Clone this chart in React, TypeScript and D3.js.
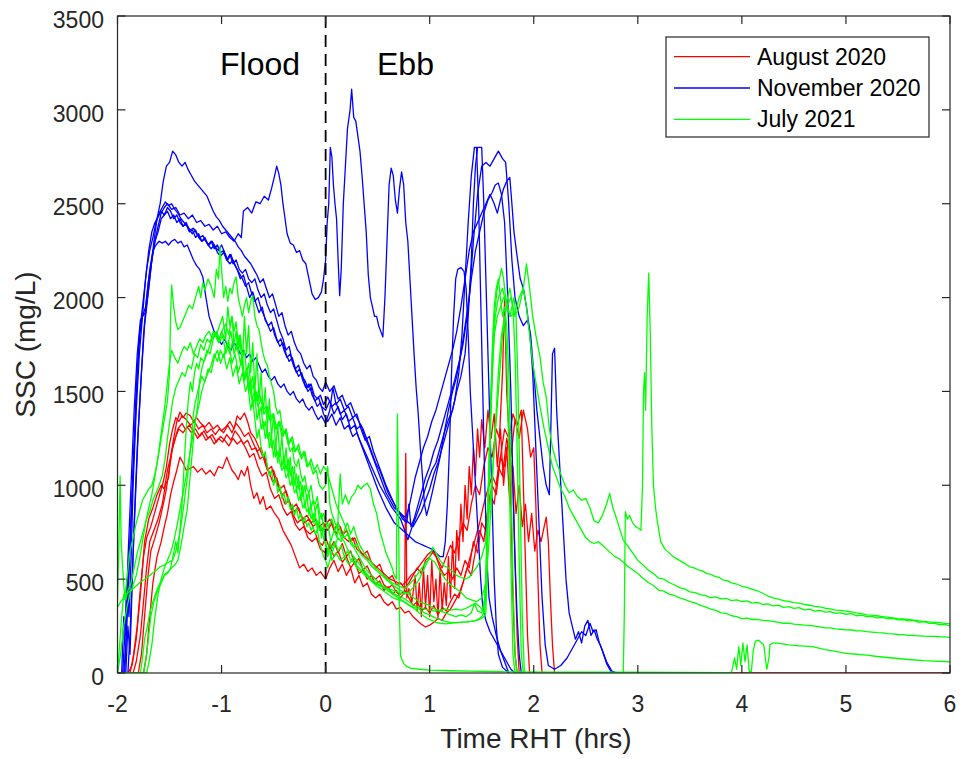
import React from "react";
import * as d3 from "d3";

type Pt = [number, number];

// ---------- tick values ----------
const xTicks = [-2, -1, 0, 1, 2, 3, 4, 5, 6];
const yTicks = [0, 500, 1000, 1500, 2000, 2500, 3000, 3500];

// ---------- August 2020 (red) ----------
const augustA: Pt[] = [[-2,0],[-1.9,0],[-1.86,40],[-1.82,180],[-1.78,420],[-1.74,700],[-1.70,820],[-1.66,880],[-1.62,950],[-1.58,1000],[-1.55,980],[-1.52,1080],[-1.49,1150],[-1.46,1250],[-1.43,1340],[-1.40,1390],[-1.37,1360],[-1.34,1385],[-1.30,1370],[-1.27,1340],[-1.24,1360],[-1.20,1330],[-1.16,1310],[-1.12,1335],[-1.08,1300],[-1.04,1320],[-1.0,1290],[-0.96,1310],[-0.92,1340],[-0.88,1300],[-0.85,1370],[-0.82,1350],[-0.78,1385],[-0.75,1340],[-0.72,1280],[-0.68,1250],[-0.64,1200],[-0.60,1150],[-0.56,1080],[-0.52,1100],[-0.48,1020],[-0.44,980],[-0.40,1000],[-0.36,920],[-0.32,880],[-0.28,900],[-0.24,840],[-0.20,800],[-0.16,820],[-0.12,780],[-0.08,800],[-0.04,760],[0,790],[0.04,820],[0.08,760],[0.12,800],[0.16,730],[0.2,760],[0.24,700],[0.28,720],[0.32,660],[0.36,630],[0.40,650],[0.44,590],[0.48,560],[0.52,580],[0.56,520],[0.60,500],[0.64,520],[0.68,470],[0.72,480],[0.76,450],[0.8,480],[0.84,520],[0.88,560],[0.92,530],[0.96,600],[1.0,620],[1.04,650],[1.08,600],[1.12,560],[1.16,620],[1.2,680],[1.24,640],[1.28,720],[1.32,800],[1.36,760],[1.40,900],[1.44,1000],[1.48,950],[1.52,1100],[1.56,1200],[1.60,1150],[1.64,1300],[1.67,1250],[1.70,1600],[1.72,2000],[1.74,1500],[1.76,1300],[1.78,900],[1.80,400],[1.82,100],[1.84,0]];
const augustB: Pt[] = [[-2,0],[-1.85,0],[-1.82,60],[-1.78,200],[-1.75,380],[-1.72,560],[-1.69,700],[-1.65,760],[-1.61,820],[-1.57,900],[-1.54,1000],[-1.51,1040],[-1.48,1180],[-1.45,1240],[-1.42,1300],[-1.38,1330],[-1.35,1300],[-1.31,1320],[-1.27,1290],[-1.23,1250],[-1.19,1280],[-1.15,1240],[-1.11,1260],[-1.07,1220],[-1.03,1250],[-0.99,1230],[-0.95,1270],[-0.91,1240],[-0.87,1290],[-0.83,1260],[-0.79,1220],[-0.75,1240],[-0.71,1190],[-0.67,1200],[-0.63,1140],[-0.59,1160],[-0.55,1080],[-0.51,1020],[-0.47,1040],[-0.43,960],[-0.39,900],[-0.35,920],[-0.31,840],[-0.27,800],[-0.23,820],[-0.19,760],[-0.15,740],[-0.11,760],[-0.07,700],[-0.03,680],[0,720],[0.04,660],[0.08,700],[0.12,640],[0.16,690],[0.2,620],[0.24,650],[0.28,580],[0.32,610],[0.36,550],[0.40,570],[0.44,520],[0.48,500],[0.52,520],[0.56,470],[0.6,450],[0.64,470],[0.68,430],[0.72,420],[0.76,440],[0.8,400],[0.84,360],[0.88,380],[0.92,330],[0.96,350],[1.0,320],[1.04,360],[1.08,310],[1.12,350],[1.16,330],[1.2,380],[1.24,420],[1.28,400],[1.32,480],[1.36,560],[1.40,520],[1.44,650],[1.48,760],[1.52,700],[1.56,880],[1.60,1000],[1.64,950],[1.68,1150],[1.72,1300],[1.76,1250],[1.80,1380],[1.84,1320],[1.88,1400],[1.90,1000],[1.92,600],[1.94,200],[1.96,0]];
const augustC: Pt[] = [[-2,0],[-1.8,0],[-1.77,100],[-1.74,300],[-1.71,500],[-1.68,650],[-1.64,720],[-1.60,800],[-1.56,900],[-1.53,980],[-1.50,1100],[-1.47,1200],[-1.44,1260],[-1.41,1300],[-1.37,1280],[-1.33,1310],[-1.29,1280],[-1.25,1300],[-1.21,1260],[-1.17,1290],[-1.13,1250],[-1.09,1270],[-1.05,1230],[-1.01,1260],[-0.97,1240],[-0.93,1210],[-0.89,1250],[-0.85,1220],[-0.81,1240],[-0.77,1200],[-0.73,1150],[-0.69,1170],[-0.65,1100],[-0.61,1050],[-0.57,1070],[-0.53,980],[-0.49,930],[-0.45,950],[-0.41,880],[-0.37,840],[-0.33,860],[-0.29,790],[-0.25,760],[-0.21,780],[-0.17,720],[-0.13,700],[-0.09,720],[-0.05,660],[0,640],[0.04,680],[0.08,620],[0.12,650],[0.16,590],[0.2,620],[0.24,560],[0.28,590],[0.32,530],[0.36,550],[0.40,500],[0.44,520],[0.48,470],[0.52,490],[0.56,440],[0.60,460],[0.64,420],[0.68,440],[0.72,400],[0.76,430],[0.77,1170],[0.78,400],[0.80,450],[0.83,380],[0.86,520],[0.88,330],[0.90,480],[0.92,300],[0.94,560],[0.96,350],[0.98,520],[1.0,300],[1.02,600],[1.04,380],[1.06,500],[1.08,290],[1.10,560],[1.12,330],[1.14,480],[1.16,360],[1.18,620],[1.20,400],[1.22,700],[1.24,450],[1.26,760],[1.28,600],[1.30,900],[1.32,700],[1.34,1000],[1.36,820],[1.38,1100],[1.40,950],[1.42,1200],[1.44,1050],[1.46,1300],[1.48,1150],[1.50,1350],[1.53,1200],[1.56,1400],[1.59,1250],[1.62,1380],[1.65,1100],[1.68,1300],[1.71,1000],[1.74,1200],[1.77,900],[1.80,1100],[1.83,850],[1.86,1000],[1.89,780],[1.92,900],[1.95,700],[1.98,850],[2.01,650],[2.04,760],[2.07,700],[2.10,780],[2.12,830],[2.14,700],[2.16,400],[2.18,150],[2.20,0],[6,0]];
const augustD: Pt[] = [[-2,0],[-1.75,0],[-1.72,100],[-1.69,300],[-1.66,480],[-1.62,620],[-1.58,700],[-1.55,780],[-1.52,850],[-1.49,950],[-1.46,1020],[-1.43,1080],[-1.40,1150],[-1.37,1120],[-1.34,1080],[-1.30,1090],[-1.27,1100],[-1.23,1070],[-1.19,1090],[-1.15,1060],[-1.11,1080],[-1.07,1050],[-1.03,1100],[-0.99,1090],[-0.95,1150],[-0.93,1120],[-0.90,1080],[-0.87,1060],[-0.84,1030],[-0.81,1080],[-0.78,1050],[-0.75,1100],[-0.72,1000],[-0.69,930],[-0.66,960],[-0.63,900],[-0.60,940],[-0.57,870],[-0.53,890],[-0.49,850],[-0.45,820],[-0.41,760],[-0.37,720],[-0.33,680],[-0.29,620],[-0.25,560],[-0.21,580],[-0.17,540],[-0.13,560],[-0.09,520],[-0.05,540],[0,500],[0.04,560],[0.08,600],[0.12,540],[0.16,580],[0.2,520],[0.24,560],[0.28,480],[0.32,520],[0.36,460],[0.4,480],[0.44,420],[0.48,400],[0.52,420],[0.56,380],[0.6,360],[0.64,380],[0.68,340],[0.72,350],[0.76,320],[0.8,330],[0.84,300],[0.88,280],[0.92,260],[0.96,245],[1.0,255],[1.04,270],[1.08,290],[1.12,280],[1.16,320],[1.2,340],[1.24,380],[1.28,420],[1.32,480],[1.36,560],[1.40,640],[1.44,720],[1.48,800],[1.52,900],[1.56,980],[1.60,1050],[1.64,1000],[1.68,1150],[1.72,1100],[1.76,1250],[1.80,1000],[1.82,600],[1.84,200],[1.86,0]];
const augustE: Pt[] = [[-2,0],[-1.88,0],[-1.85,80],[-1.81,250],[-1.78,450],[-1.75,620],[-1.72,720],[-1.68,780],[-1.64,860],[-1.60,940],[-1.56,1020],[-1.53,1100],[-1.50,1220],[-1.47,1300],[-1.44,1360],[-1.41,1340],[-1.38,1370],[-1.34,1350],[-1.30,1320],[-1.26,1340],[-1.22,1300],[-1.18,1320],[-1.14,1280],[-1.10,1300],[-1.06,1270],[-1.02,1300],[-0.98,1280],[-0.94,1320],[-0.90,1280],[-0.86,1330],[-0.82,1300],[-0.78,1260],[-0.74,1280],[-0.70,1230],[-0.66,1180],[-0.62,1200],[-0.58,1120],[-0.54,1060],[-0.50,1080],[-0.46,1000],[-0.42,950],[-0.38,970],[-0.34,900],[-0.30,860],[-0.26,880],[-0.22,820],[-0.18,840],[-0.14,800],[-0.10,820],[-0.06,780],[-0.02,800],[0.02,760],[0.06,800],[0.1,740],[0.14,780],[0.18,720],[0.22,700],[0.26,720],[0.30,660],[0.34,640],[0.38,620],[0.42,600],[0.46,580],[0.50,560],[0.54,540],[0.58,520],[0.62,500],[0.66,490],[0.70,480],[0.74,470],[0.78,490],[0.82,520],[0.86,540],[0.90,570],[0.94,600],[0.98,630],[1.02,650],[1.06,620],[1.10,560],[1.14,520],[1.18,540],[1.22,500],[1.26,560],[1.30,520],[1.34,600],[1.38,560],[1.42,700],[1.46,640],[1.50,800],[1.54,760],[1.58,950],[1.62,900],[1.66,1100],[1.70,1050],[1.74,1250],[1.78,1150],[1.82,1350],[1.86,1250],[1.90,1400],[1.94,1300],[1.97,1150],[2.0,1200],[2.02,900],[2.04,500],[2.06,150],[2.08,0]];

// ---------- November 2020 (blue) ----------
const novemberA: Pt[] = [[-2,0],[-1.90,0],[-1.88,200],[-1.86,500],[-1.83,900],[-1.80,1300],[-1.77,1600],[-1.74,1850],[-1.71,2000],[-1.68,2150],[-1.65,2300],[-1.62,2420],[-1.59,2500],[-1.56,2620],[-1.53,2700],[-1.50,2720],[-1.47,2780],[-1.44,2760],[-1.41,2720],[-1.38,2700],[-1.35,2720],[-1.32,2680],[-1.29,2650],[-1.26,2620],[-1.23,2600],[-1.20,2580],[-1.17,2560],[-1.14,2540],[-1.11,2500],[-1.08,2460],[-1.05,2430],[-1.02,2410],[-0.99,2380],[-0.96,2360],[-0.93,2340],[-0.90,2320],[-0.87,2300],[-0.84,2270],[-0.81,2250],[-0.78,2220],[-0.75,2200],[-0.72,2180],[-0.69,2150],[-0.66,2120],[-0.63,2080],[-0.60,2100],[-0.57,2050],[-0.54,2000],[-0.51,2020],[-0.48,1960],[-0.45,1900],[-0.42,1920],[-0.39,1850],[-0.36,1800],[-0.33,1820],[-0.30,1760],[-0.27,1720],[-0.24,1700],[-0.21,1650],[-0.18,1620],[-0.15,1640],[-0.12,1580],[-0.09,1560],[-0.06,1520],[-0.03,1500],[0,1550],[0.04,1500],[0.08,1530],[0.12,1460],[0.16,1480],[0.20,1420],[0.24,1440],[0.28,1380],[0.32,1340],[0.36,1300],[0.40,1240],[0.44,1180],[0.48,1120],[0.52,1080],[0.56,1020],[0.60,960],[0.64,920],[0.68,880],[0.72,850],[0.76,820],[0.80,800],[0.84,780],[0.88,820],[0.92,860],[0.96,920],[1.0,980],[1.04,1060],[1.08,1120],[1.12,1200],[1.16,1280],[1.20,1360],[1.24,1450],[1.28,1600],[1.31,1800],[1.34,2100],[1.37,2400],[1.40,2650],[1.43,2800],[1.45,2800],[1.47,2500],[1.49,2000],[1.51,1500],[1.53,1000],[1.55,600],[1.57,400],[1.60,300],[1.64,200],[1.68,120],[1.72,60],[1.76,0]];
const novemberB: Pt[] = [[-2,0],[-1.93,0],[-1.91,300],[-1.88,700],[-1.85,1100],[-1.82,1500],[-1.79,1800],[-1.76,1900],[-1.73,1920],[-1.70,2050],[-1.67,2200],[-1.64,2300],[-1.61,2380],[-1.58,2450],[-1.55,2480],[-1.52,2500],[-1.48,2470],[-1.44,2480],[-1.40,2440],[-1.36,2450],[-1.32,2420],[-1.28,2440],[-1.24,2400],[-1.20,2410],[-1.16,2380],[-1.12,2390],[-1.08,2360],[-1.04,2380],[-1.00,2340],[-0.96,2350],[-0.92,2320],[-0.88,2300],[-0.84,2340],[-0.81,2320],[-0.79,2460],[-0.75,2480],[-0.71,2450],[-0.67,2510],[-0.63,2500],[-0.59,2540],[-0.55,2520],[-0.52,2580],[-0.49,2650],[-0.47,2700],[-0.45,2660],[-0.43,2600],[-0.41,2500],[-0.39,2420],[-0.37,2340],[-0.34,2290],[-0.31,2280],[-0.28,2240],[-0.25,2250],[-0.22,2200],[-0.19,2180],[-0.16,2100],[-0.13,2020],[-0.10,1990],[-0.07,2000],[-0.04,2030],[-0.02,2100],[0.0,2200],[0.015,2400],[0.03,2500],[0.045,2800],[0.06,2750],[0.075,2600],[0.09,2500],[0.105,2420],[0.12,2200],[0.135,2010],[0.15,2150],[0.17,2500],[0.19,2700],[0.21,2900],[0.235,3000],[0.25,3110],[0.27,2960],[0.29,2940],[0.31,2860],[0.33,2780],[0.35,2650],[0.37,2500],[0.39,2350],[0.41,2120],[0.43,2000],[0.45,1950],[0.47,1900],[0.49,1900],[0.51,1850],[0.53,1820],[0.55,1790],[0.57,2000],[0.59,2300],[0.61,2600],[0.63,2690],[0.65,2650],[0.67,2520],[0.69,2450],[0.71,2580],[0.73,2670],[0.75,2600],[0.77,2400],[0.79,2300],[0.81,2100],[0.83,1900],[0.85,1700],[0.87,1520],[0.89,1380],[0.91,1200],[0.93,1050],[0.95,900],[0.97,840],[0.99,880],[1.02,950],[1.06,1050],[1.10,1150],[1.14,1280],[1.18,1400],[1.22,1500],[1.26,1580],[1.30,1700],[1.34,1850],[1.38,2000],[1.42,2300],[1.46,2550],[1.50,2700],[1.54,2720],[1.58,2700],[1.62,2740],[1.66,2780],[1.70,2740],[1.73,2720],[1.76,2500],[1.79,2200],[1.82,2000],[1.86,1900],[1.90,1850],[1.94,1880],[1.97,1800],[2.0,1600],[2.03,1400],[2.06,1250],[2.09,1100],[2.12,1000],[2.15,950],[2.18,1700],[2.20,1730],[2.22,1400],[2.25,1100],[2.28,800],[2.31,500],[2.34,320],[2.37,250],[2.40,180],[2.43,220],[2.46,160],[2.49,250],[2.52,280],[2.55,200],[2.58,230],[2.61,180],[2.64,150],[2.67,100],[2.70,50],[2.74,10],[2.78,0]];
const novemberC: Pt[] = [[-2,0],[-1.94,0],[-1.92,150],[-1.90,400],[-1.87,800],[-1.84,1200],[-1.81,1600],[-1.78,1850],[-1.75,2000],[-1.72,2150],[-1.69,2250],[-1.66,2320],[-1.63,2400],[-1.60,2450],[-1.57,2480],[-1.54,2510],[-1.51,2490],[-1.48,2500],[-1.45,2470],[-1.42,2450],[-1.39,2420],[-1.36,2400],[-1.33,2380],[-1.30,2360],[-1.27,2370],[-1.24,2340],[-1.21,2320],[-1.18,2330],[-1.15,2300],[-1.12,2280],[-1.09,2300],[-1.06,2270],[-1.03,2250],[-1.00,2280],[-0.97,2240],[-0.94,2200],[-0.91,2230],[-0.88,2180],[-0.85,2150],[-0.82,2100],[-0.79,2120],[-0.76,2060],[-0.73,2000],[-0.70,2030],[-0.67,1970],[-0.64,1920],[-0.61,1950],[-0.58,1880],[-0.55,1850],[-0.52,1870],[-0.49,1800],[-0.46,1760],[-0.43,1780],[-0.40,1720],[-0.37,1680],[-0.34,1700],[-0.31,1640],[-0.28,1600],[-0.25,1620],[-0.22,1560],[-0.19,1520],[-0.16,1540],[-0.13,1480],[-0.10,1450],[-0.07,1470],[-0.04,1420],[0,1400],[0.04,1450],[0.08,1380],[0.12,1420],[0.16,1350],[0.20,1380],[0.24,1300],[0.28,1320],[0.32,1250],[0.36,1200],[0.40,1150],[0.44,1100],[0.48,1050],[0.52,1000],[0.56,960],[0.60,920],[0.64,880],[0.68,850],[0.72,820],[0.76,760],[0.79,710],[0.82,760],[0.86,820],[0.90,880],[0.94,950],[0.98,1020],[1.02,1080],[1.06,1120],[1.10,1200],[1.14,1280],[1.18,1350],[1.22,1400],[1.26,1500],[1.30,1580],[1.34,1700],[1.37,1900],[1.40,2200],[1.42,2500],[1.44,2700],[1.46,2800],[1.48,2800],[1.50,2800],[1.52,2500],[1.54,2100],[1.56,1700],[1.58,1300],[1.60,900],[1.62,500],[1.64,250],[1.66,100],[1.70,30],[1.76,0]];
const novemberD: Pt[] = [[-2,0],[-1.95,0],[-1.93,200],[-1.91,500],[-1.89,300],[-1.87,600],[-1.85,1000],[-1.82,1400],[-1.79,1700],[-1.76,1900],[-1.73,2100],[-1.70,2250],[-1.67,2350],[-1.64,2400],[-1.61,2430],[-1.58,2460],[-1.55,2440],[-1.52,2480],[-1.49,2460],[-1.46,2420],[-1.43,2440],[-1.40,2400],[-1.37,2380],[-1.34,2400],[-1.31,2360],[-1.28,2340],[-1.25,2360],[-1.22,2320],[-1.19,2300],[-1.16,2320],[-1.13,2280],[-1.10,2260],[-1.07,2280],[-1.04,2240],[-1.01,2220],[-0.98,2240],[-0.95,2200],[-0.92,2180],[-0.89,2200],[-0.86,2160],[-0.83,2130],[-0.80,2100],[-0.77,2060],[-0.74,2080],[-0.71,2020],[-0.68,1980],[-0.65,2000],[-0.62,1940],[-0.59,1900],[-0.56,1860],[-0.53,1820],[-0.50,1840],[-0.47,1780],[-0.44,1740],[-0.41,1760],[-0.38,1700],[-0.35,1660],[-0.32,1680],[-0.29,1620],[-0.26,1580],[-0.23,1600],[-0.20,1540],[-0.17,1500],[-0.14,1520],[-0.11,1460],[-0.08,1420],[-0.05,1440],[-0.02,1380],[0.02,1340],[0.06,1380],[0.10,1320],[0.14,1360],[0.18,1300],[0.22,1320],[0.26,1260],[0.30,1280],[0.34,1220],[0.38,1160],[0.42,1100],[0.46,1040],[0.50,980],[0.54,930],[0.58,880],[0.62,840],[0.66,800],[0.70,780],[0.74,760],[0.78,740],[0.82,720],[0.86,700],[0.90,690],[0.94,680],[0.98,670],[1.02,660],[1.06,640],[1.10,620],[1.13,620],[1.15,700],[1.17,900],[1.19,1200],[1.21,1600],[1.23,1900],[1.25,2100],[1.27,2150],[1.30,2160],[1.33,2140],[1.35,2050],[1.37,1800],[1.39,1500],[1.41,1300],[1.43,1100],[1.45,900],[1.47,700],[1.49,500],[1.51,350],[1.54,280],[1.58,220],[1.62,180],[1.66,140],[1.70,100],[1.74,60],[1.78,20],[1.82,0]];
const novemberE: Pt[] = [[-2,0],[-1.92,0],[-1.90,250],[-1.88,100],[-1.86,450],[-1.84,800],[-1.81,1200],[-1.78,1500],[-1.75,1800],[-1.72,2000],[-1.69,2150],[-1.66,2250],[-1.63,2280],[-1.60,2300],[-1.57,2290],[-1.54,2300],[-1.51,2280],[-1.48,2300],[-1.45,2310],[-1.42,2290],[-1.39,2300],[-1.36,2270],[-1.33,2280],[-1.30,2240],[-1.27,2200],[-1.24,2170],[-1.21,2150],[-1.18,2110],[-1.15,2000],[-1.12,1900],[-1.09,1850],[-1.06,1800],[-1.03,1780],[-1.00,1750],[-0.97,1780],[-0.94,1740],[-0.91,1720],[-0.88,1760],[-0.85,1740],[-0.82,1700],[-0.79,1720],[-0.76,1680],[-0.73,1700],[-0.70,1660],[-0.67,1680],[-0.64,1640],[-0.61,1600],[-0.58,1620],[-0.55,1580],[-0.52,1560],[-0.49,1580],[-0.46,1540],[-0.43,1520],[-0.40,1540],[-0.37,1500],[-0.34,1480],[-0.31,1500],[-0.28,1460],[-0.25,1440],[-0.22,1460],[-0.19,1420],[-0.16,1400],[-0.13,1420],[-0.10,1380],[-0.07,1350],[-0.04,1370],[0.0,1330],[0.04,1400],[0.07,1520],[0.10,1430],[0.14,1460],[0.18,1400],[0.22,1420],[0.26,1360],[0.30,1380],[0.34,1300],[0.38,1240],[0.42,1260],[0.46,1180],[0.50,1120],[0.54,1060],[0.58,1000],[0.62,950],[0.66,900],[0.70,860],[0.74,820],[0.78,800],[0.80,900],[0.82,780],[0.85,820],[0.88,880],[0.92,960],[0.96,1040],[1.0,1100],[1.04,1180],[1.08,1240],[1.12,1320],[1.16,1400],[1.20,1480],[1.24,1560],[1.28,1650],[1.32,1750],[1.36,1900],[1.40,2100],[1.44,2250],[1.48,2350],[1.52,2450],[1.56,2520],[1.60,2560],[1.63,2600],[1.66,2610],[1.69,2550],[1.72,2400],[1.75,2000],[1.78,1500],[1.80,1000],[1.82,600],[1.84,300],[1.86,100],[1.88,0]];
const novemberF: Pt[] = [[-2,0],[-1.96,0],[-1.94,300],[-1.92,200],[-1.90,600],[-1.87,1000],[-1.84,1400],[-1.81,1700],[-1.78,1880],[-1.76,1900],[-1.73,1950],[-1.70,2100],[-1.67,2200],[-1.64,2300],[-1.61,2350],[-1.58,2420],[-1.55,2440],[-1.52,2460],[-1.49,2420],[-1.46,2440],[-1.43,2400],[-1.40,2420],[-1.37,2380],[-1.34,2390],[-1.31,2350],[-1.28,2360],[-1.25,2320],[-1.22,2340],[-1.19,2300],[-1.16,2310],[-1.13,2280],[-1.10,2300],[-1.07,2260],[-1.04,2280],[-1.01,2240],[-0.98,2250],[-0.95,2200],[-0.92,2230],[-0.89,2180],[-0.86,2200],[-0.83,2150],[-0.80,2130],[-0.77,2150],[-0.74,2100],[-0.71,2080],[-0.68,2100],[-0.65,2040],[-0.62,2000],[-0.59,2020],[-0.56,1960],[-0.53,1920],[-0.50,1940],[-0.47,1880],[-0.44,1820],[-0.41,1780],[-0.38,1720],[-0.35,1740],[-0.32,1660],[-0.29,1620],[-0.26,1640],[-0.23,1580],[-0.20,1560],[-0.17,1520],[-0.14,1540],[-0.11,1480],[-0.08,1460],[-0.05,1480],[-0.02,1430],[0.02,1470],[0.06,1420],[0.10,1440],[0.14,1380],[0.18,1400],[0.22,1340],[0.26,1360],[0.30,1300],[0.34,1320],[0.38,1250],[0.42,1200],[0.46,1140],[0.50,1080],[0.54,1020],[0.58,960],[0.62,920],[0.66,880],[0.70,860],[0.74,840],[0.77,830],[0.80,880],[0.83,960],[0.86,1040],[0.90,1120],[0.94,1200],[0.98,1260],[1.02,1340],[1.06,1400],[1.10,1480],[1.14,1560],[1.18,1640],[1.22,1720],[1.26,1820],[1.30,1950],[1.34,2100],[1.38,2250],[1.42,2350],[1.46,2400],[1.50,2450],[1.54,2500],[1.58,2550],[1.62,2500],[1.65,2450],[1.68,2520],[1.71,2580],[1.74,2620],[1.77,2640],[1.79,2500],[1.81,2350],[1.84,2220],[1.87,2100],[1.90,2050],[1.93,1950],[1.96,1830],[1.99,1600],[2.02,1200],[2.05,800],[2.08,400],[2.11,150],[2.14,40],[2.20,20],[2.26,40],[2.32,80],[2.38,140],[2.42,180],[2.46,220],[2.50,200],[2.54,265],[2.57,220],[2.60,230],[2.63,160],[2.66,120],[2.70,60],[2.75,10],[2.80,0],[3.0,0]];

// ---------- July 2021 (green) ----------
const julyA: Pt[] = [[-2,380],[-1.99,600],[-1.975,1050],[-1.965,700],[-1.95,560],[-1.93,390],[-1.91,500],[-1.88,650],[-1.85,720],[-1.82,800],[-1.79,860],[-1.76,920],[-1.73,950],[-1.70,980],[-1.67,1000],[-1.64,1060],[-1.61,1150],[-1.58,1250],[-1.55,1350],[-1.52,1450],[-1.50,1600],[-1.49,1900],[-1.48,2066],[-1.46,1950],[-1.44,1870],[-1.42,1830],[-1.40,1840],[-1.37,1880],[-1.34,1920],[-1.31,1960],[-1.28,1940],[-1.25,2000],[-1.22,2060],[-1.20,2000],[-1.18,2080],[-1.16,2040],[-1.13,2100],[-1.10,2060],[-1.07,2000],[-1.05,2150],[-1.03,2100],[-1.015,2270],[-1.0,2150],[-0.98,2000],[-0.96,2060],[-0.94,1980],[-0.92,2050],[-0.90,2020],[-0.88,2080],[-0.86,2110],[-0.84,2000],[-0.82,1950],[-0.80,1900],[-0.78,1960],[-0.76,2000],[-0.74,1920],[-0.72,1980],[-0.70,2010],[-0.68,1900],[-0.66,1850],[-0.64,1830],[-0.62,1760],[-0.60,1700],[-0.58,1660],[-0.56,1640],[-0.54,1580],[-0.52,1540],[-0.50,1500],[-0.48,1420],[-0.46,1380],[-0.44,1400],[-0.42,1320],[-0.40,1280],[-0.38,1300],[-0.36,1220],[-0.34,1180],[-0.32,1200],[-0.30,1120],[-0.28,1100],[-0.26,1140],[-0.24,1060],[-0.22,1020],[-0.20,1050],[-0.18,980],[-0.16,960],[-0.14,1000],[-0.12,920],[-0.10,900],[-0.08,940],[-0.06,860],[-0.04,820],[-0.02,850],[0,800],[0.03,780],[0.06,820],[0.09,760],[0.12,800],[0.15,740],[0.18,720],[0.21,740],[0.24,690],[0.27,670],[0.30,690],[0.33,640],[0.36,620],[0.40,600],[0.44,570],[0.48,550],[0.52,530],[0.56,510],[0.60,490],[0.64,470],[0.68,455],[0.72,440],[0.76,430],[0.80,420],[0.85,400],[0.90,380],[0.95,370],[1.0,360],[1.05,340],[1.10,330],[1.15,320],[1.20,310],[1.25,300],[1.30,310],[1.35,300],[1.40,320],[1.43,370],[1.46,330],[1.50,320],[1.53,400],[1.55,700],[1.57,1100],[1.59,1500],[1.61,1800],[1.63,1950],[1.65,2050],[1.67,2100],[1.69,2155],[1.71,2100],[1.73,2000],[1.75,1950],[1.77,1900],[1.79,1950],[1.81,2000],[1.83,1900],[1.85,1500],[1.87,900],[1.89,300],[1.91,0]];
const julyB: Pt[] = [[-2,0],[-1.97,100],[-1.94,250],[-1.91,350],[-1.88,420],[-1.85,470],[-1.82,520],[-1.79,600],[-1.76,700],[-1.73,800],[-1.70,880],[-1.67,950],[-1.64,1050],[-1.61,1150],[-1.58,1280],[-1.55,1400],[-1.52,1550],[-1.50,1650],[-1.48,1720],[-1.45,1680],[-1.42,1650],[-1.39,1700],[-1.36,1740],[-1.33,1720],[-1.30,1760],[-1.27,1700],[-1.24,1740],[-1.21,1780],[-1.18,1760],[-1.15,1800],[-1.12,1820],[-1.09,1780],[-1.06,1800],[-1.03,1760],[-1.00,1820],[-0.97,1780],[-0.94,1750],[-0.91,1820],[-0.88,1700],[-0.85,1760],[-0.82,1650],[-0.80,1700],[-0.78,1560],[-0.76,1620],[-0.74,1500],[-0.72,1560],[-0.70,1420],[-0.68,1480],[-0.66,1350],[-0.64,1400],[-0.62,1300],[-0.60,1340],[-0.58,1250],[-0.56,1300],[-0.54,1200],[-0.52,1260],[-0.50,1150],[-0.48,1220],[-0.46,1120],[-0.44,1200],[-0.42,1100],[-0.40,1160],[-0.38,1080],[-0.36,1140],[-0.34,1050],[-0.32,1100],[-0.30,1000],[-0.28,1060],[-0.26,980],[-0.24,1020],[-0.22,940],[-0.20,1000],[-0.18,920],[-0.16,960],[-0.14,880],[-0.12,920],[-0.10,860],[-0.08,900],[-0.06,820],[-0.04,850],[-0.02,780],[0,760],[0.02,800],[0.05,700],[0.08,760],[0.11,720],[0.14,1060],[0.16,900],[0.19,950],[0.22,900],[0.25,940],[0.28,960],[0.31,1000],[0.34,980],[0.37,1000],[0.40,1010],[0.43,980],[0.46,900],[0.49,850],[0.52,760],[0.55,700],[0.58,640],[0.61,600],[0.64,560],[0.66,520],[0.68,500],[0.69,1380],[0.70,900],[0.71,300],[0.72,90],[0.75,50],[0.78,35],[0.82,25],[0.90,20],[1.0,15],[1.2,12],[1.4,10],[1.6,8],[1.8,6],[2.2,5],[2.8,4],[3.4,3],[3.9,2],[3.93,80],[3.95,20],[3.97,140],[3.99,40],[4.01,160],[4.03,60],[4.05,150],[4.07,10],[4.09,5],[4.11,120],[4.13,170],[4.16,175],[4.19,160],[4.21,150],[4.23,60],[4.24,20],[4.26,80],[4.27,150],[4.30,160],[4.36,158],[4.45,150],[4.55,145],[4.68,140],[4.8,125],[4.9,115],[5.0,105],[5.1,100],[5.2,95],[5.3,88],[5.45,80],[5.6,72],[5.75,66],[5.9,62],[6.0,60]];
const julyC: Pt[] = [[-2,0],[-1.78,0],[-1.76,80],[-1.74,180],[-1.72,230],[-1.69,320],[-1.66,380],[-1.63,430],[-1.60,470],[-1.57,500],[-1.54,530],[-1.51,540],[-1.48,560],[-1.45,575],[-1.42,600],[-1.39,680],[-1.36,780],[-1.33,870],[-1.31,1000],[-1.29,1120],[-1.27,1250],[-1.25,1350],[-1.23,1420],[-1.21,1560],[-1.19,1620],[-1.17,1660],[-1.14,1700],[-1.11,1750],[-1.08,1800],[-1.05,1820],[-1.02,1780],[-0.99,1830],[-0.96,1860],[-0.93,1800],[-0.90,1900],[-0.88,1820],[-0.86,1870],[-0.84,1750],[-0.82,1800],[-0.80,1680],[-0.78,1720],[-0.76,1600],[-0.74,1650],[-0.72,1540],[-0.70,1580],[-0.68,1450],[-0.66,1500],[-0.64,1380],[-0.62,1420],[-0.60,1300],[-0.58,1340],[-0.56,1250],[-0.54,1280],[-0.52,1200],[-0.50,1240],[-0.48,1150],[-0.46,1180],[-0.44,1120],[-0.42,1080],[-0.40,1100],[-0.38,1040],[-0.36,1060],[-0.34,1000],[-0.32,1030],[-0.30,960],[-0.28,980],[-0.26,920],[-0.24,950],[-0.22,880],[-0.20,900],[-0.18,860],[-0.16,880],[-0.14,820],[-0.12,850],[-0.10,790],[-0.08,810],[-0.06,760],[-0.04,780],[-0.02,720],[0,680],[0.02,620],[0.04,660],[0.06,600],[0.10,640],[0.14,600],[0.18,620],[0.22,580],[0.26,600],[0.30,560],[0.34,540],[0.38,520],[0.42,500],[0.46,480],[0.50,470],[0.55,460],[0.60,450],[0.65,440],[0.70,430],[0.75,420],[0.80,430],[0.85,460],[0.90,500],[0.95,560],[1.0,620],[1.03,670],[1.06,640],[1.10,600],[1.14,570],[1.18,560],[1.22,540],[1.26,520],[1.30,510],[1.34,500],[1.38,510],[1.42,540],[1.46,570],[1.50,620],[1.54,700],[1.58,900],[1.62,1200],[1.66,1500],[1.70,1800],[1.74,1950],[1.78,2000],[1.82,1900],[1.86,1950],[1.90,2050],[1.93,2180],[1.96,2050],[1.99,1900],[2.02,1800],[2.06,1685],[2.09,1550],[2.12,1470],[2.15,1300],[2.18,1200],[2.22,1120],[2.26,1060],[2.30,1000],[2.34,960],[2.38,975],[2.42,940],[2.46,920],[2.50,930],[2.54,880],[2.58,810],[2.62,800],[2.66,840],[2.70,900],[2.73,957],[2.76,880],[2.80,815],[2.83,760],[2.86,708],[2.90,680],[2.95,640],[3.00,600],[3.05,575],[3.10,548],[3.15,530],[3.20,505],[3.25,500],[3.30,482],[3.35,470],[3.40,455],[3.45,448],[3.50,432],[3.55,428],[3.60,418],[3.65,412],[3.70,402],[3.75,406],[3.80,395],[3.85,398],[3.90,386],[3.95,390],[4.00,380],[4.05,384],[4.10,372],[4.15,376],[4.20,365],[4.25,368],[4.30,358],[4.35,362],[4.40,350],[4.45,354],[4.50,344],[4.55,348],[4.60,336],[4.65,340],[4.70,330],[4.75,333],[4.80,324],[4.85,327],[4.90,318],[4.95,320],[5.00,313],[5.05,316],[5.10,305],[5.15,308],[5.20,300],[5.25,302],[5.30,294],[5.35,297],[5.40,289],[5.45,291],[5.50,283],[5.55,285],[5.60,278],[5.65,280],[5.70,270],[5.75,273],[5.80,264],[5.85,266],[5.90,257],[5.95,259],[6.00,250]];
const julyD: Pt[] = [[-2,0],[-1.75,0],[-1.73,60],[-1.71,150],[-1.68,300],[-1.65,380],[-1.62,430],[-1.58,480],[-1.55,520],[-1.52,530],[-1.49,560],[-1.46,640],[-1.44,700],[-1.42,640],[-1.40,760],[-1.38,900],[-1.36,1100],[-1.34,1300],[-1.32,1450],[-1.30,1550],[-1.28,1500],[-1.26,1600],[-1.24,1650],[-1.22,1620],[-1.20,1680],[-1.17,1660],[-1.14,1720],[-1.11,1700],[-1.08,1780],[-1.05,1810],[-1.02,1760],[-0.99,1800],[-0.96,1700],[-0.93,1760],[-0.90,1650],[-0.87,1700],[-0.84,1600],[-0.81,1660],[-0.78,1560],[-0.75,1600],[-0.72,1500],[-0.69,1540],[-0.66,1450],[-0.63,1480],[-0.60,1400],[-0.57,1420],[-0.54,1350],[-0.51,1380],[-0.48,1300],[-0.45,1340],[-0.42,1260],[-0.39,1290],[-0.36,1220],[-0.33,1250],[-0.30,1180],[-0.27,1200],[-0.24,1150],[-0.21,1180],[-0.18,1100],[-0.15,1120],[-0.12,1060],[-0.09,1080],[-0.06,1000],[-0.03,980],[0,1000],[0.02,1100],[0.04,900],[0.06,850],[0.09,800],[0.12,760],[0.15,720],[0.18,700],[0.21,660],[0.24,640],[0.27,620],[0.30,600],[0.34,570],[0.38,540],[0.42,510],[0.46,480],[0.50,460],[0.55,440],[0.60,420],[0.65,400],[0.70,390],[0.75,380],[0.80,360],[0.85,350],[0.90,340],[0.95,320],[1.0,310],[1.05,295],[1.10,285],[1.15,275],[1.20,270],[1.25,268],[1.30,270],[1.35,272],[1.40,275],[1.45,280],[1.50,300],[1.53,330],[1.55,600],[1.57,1000],[1.59,1400],[1.61,1700],[1.63,1900],[1.66,2000],[1.70,2050],[1.74,1950],[1.78,1900],[1.82,1920],[1.86,2000],[1.90,2050],[1.93,1950],[1.96,1800],[1.99,1650],[2.02,1550],[2.06,1420],[2.10,1300],[2.14,1200],[2.18,1100],[2.22,1040],[2.26,980],[2.30,940],[2.34,880],[2.38,840],[2.42,800],[2.46,760],[2.50,720],[2.54,700],[2.58,690],[2.62,700],[2.66,680],[2.70,660],[2.74,640],[2.78,620],[2.82,610],[2.86,590],[2.90,570],[2.95,550],[3.00,530],[3.05,505],[3.10,482],[3.15,466],[3.20,442],[3.25,436],[3.30,420],[3.35,414],[3.40,400],[3.45,392],[3.50,380],[3.55,374],[3.60,360],[3.65,352],[3.70,340],[3.75,334],[3.80,320],[3.85,318],[3.90,305],[3.95,300],[4.00,290],[4.05,292],[4.10,285],[4.15,286],[4.20,280],[4.25,279],[4.30,275],[4.35,270],[4.40,265],[4.45,266],[4.50,260],[4.55,258],[4.60,255],[4.65,254],[4.70,250],[4.75,246],[4.80,240],[4.85,240],[4.90,235],[4.95,233],[5.00,230],[5.05,229],[5.10,225],[5.15,224],[5.20,220],[5.25,218],[5.30,215],[5.35,214],[5.40,210],[5.45,208],[5.50,205],[5.55,204],[5.60,200],[5.65,200],[5.70,198],[5.75,196],[5.80,195],[5.85,195],[5.90,193],[5.95,192],[6.00,190]];
const julyE: Pt[] = [[-2,0],[-1.96,300],[-1.94,420],[-1.92,390],[-1.90,440],[-1.87,480],[-1.84,560],[-1.81,640],[-1.78,700],[-1.75,760],[-1.72,820],[-1.69,860],[-1.66,920],[-1.63,960],[-1.60,1000],[-1.57,1050],[-1.54,1150],[-1.52,1250],[-1.50,1330],[-1.47,1450],[-1.44,1520],[-1.41,1560],[-1.38,1600],[-1.35,1580],[-1.32,1640],[-1.29,1620],[-1.26,1700],[-1.23,1680],[-1.20,1750],[-1.17,1720],[-1.14,1780],[-1.11,1760],[-1.08,1820],[-1.05,1800],[-1.02,1850],[-0.99,1900],[-0.96,1780],[-0.94,1950],[-0.92,1850],[-0.90,1900],[-0.88,1750],[-0.86,1820],[-0.84,1700],[-0.82,1780],[-0.80,1650],[-0.78,1560],[-0.76,1620],[-0.74,1500],[-0.72,1400],[-0.70,1460],[-0.68,1350],[-0.66,1250],[-0.64,1300],[-0.62,1200],[-0.60,1150],[-0.58,1180],[-0.56,1100],[-0.54,1050],[-0.52,1080],[-0.50,1000],[-0.48,1040],[-0.46,960],[-0.44,1000],[-0.42,930],[-0.40,960],[-0.38,900],[-0.36,940],[-0.34,870],[-0.32,900],[-0.30,840],[-0.28,880],[-0.26,820],[-0.24,850],[-0.22,800],[-0.20,830],[-0.18,780],[-0.16,800],[-0.14,760],[-0.12,780],[-0.10,740],[-0.08,760],[-0.06,700],[-0.04,660],[-0.02,620],[0,600],[0.02,560],[0.04,600],[0.06,640],[0.09,680],[0.12,720],[0.15,700],[0.18,760],[0.21,800],[0.24,740],[0.27,780],[0.30,720],[0.33,680],[0.36,650],[0.40,620],[0.44,590],[0.48,560],[0.52,540],[0.56,520],[0.60,500],[0.64,480],[0.68,470],[0.72,460],[0.76,450],[0.80,470],[0.85,500],[0.90,540],[0.95,580],[1.0,610],[1.05,590],[1.10,540],[1.15,500],[1.20,470],[1.25,450],[1.30,430],[1.35,400],[1.40,390],[1.45,380],[1.50,400],[1.54,480],[1.57,700],[1.60,1000],[1.63,1300],[1.66,1600],[1.69,1800],[1.72,1900],[1.74,1700],[1.76,1200],[1.78,600],[1.80,100],[1.82,0],[2.86,0],[2.87,300],[2.88,860],[2.90,820],[2.92,840],[2.95,800],[2.98,780],[3.01,770],[3.03,760],[3.045,1000],[3.055,1500],[3.065,1600],[3.075,1400],[3.09,1900],[3.105,2130],[3.12,1800],[3.135,1300],[3.15,1000],[3.17,880],[3.19,800],[3.22,700],[3.26,660],[3.30,640],[3.34,620],[3.40,600],[3.45,584],[3.50,566],[3.54,560],[3.58,550],[3.62,544],[3.66,531],[3.70,526],[3.74,515],[3.78,510],[3.82,495],[3.86,492],[3.90,480],[3.95,474],[4.00,462],[4.05,456],[4.10,445],[4.15,438],[4.20,425],[4.25,410],[4.30,400],[4.35,394],[4.40,385],[4.45,382],[4.50,375],[4.55,372],[4.60,365],[4.65,361],[4.70,355],[4.75,352],[4.80,345],[4.85,342],[4.90,335],[4.95,334],[5.00,330],[5.05,326],[5.10,320],[5.15,316],[5.20,310],[5.25,308],[5.30,305],[5.35,300],[5.40,298],[5.45,294],[5.50,290],[5.55,288],[5.60,285],[5.65,281],[5.70,278],[5.75,275],[5.80,272],[5.85,270],[5.90,268],[5.95,264],[6.00,262]];
const julyF: Pt[] = [[-2,350],[-1.97,380],[-1.94,400],[-1.91,424],[-1.87,440],[-1.83,460],[-1.79,480],[-1.75,495],[-1.71,510],[-1.67,530],[-1.63,545],[-1.59,566],[-1.55,575],[-1.51,590],[-1.47,600],[-1.44,650],[-1.41,720],[-1.38,820],[-1.35,950],[-1.32,1080],[-1.29,1250],[-1.27,1383],[-1.25,1450],[-1.22,1520],[-1.19,1580],[-1.16,1550],[-1.13,1620],[-1.10,1600],[-1.07,1680],[-1.04,1720],[-1.01,1650],[-0.98,1700],[-0.95,1620],[-0.92,1680],[-0.89,1580],[-0.86,1640],[-0.83,1540],[-0.80,1600],[-0.77,1500],[-0.74,1550],[-0.71,1460],[-0.68,1500],[-0.65,1420],[-0.62,1460],[-0.59,1380],[-0.56,1420],[-0.53,1340],[-0.50,1380],[-0.47,1300],[-0.44,1340],[-0.41,1260],[-0.38,1300],[-0.35,1220],[-0.32,1260],[-0.29,1180],[-0.26,1220],[-0.23,1140],[-0.20,1180],[-0.17,1100],[-0.14,1140],[-0.11,1080],[-0.08,1110],[-0.05,1060],[-0.02,1100],[0.01,1080],[0.04,1020],[0.07,960],[0.10,900],[0.13,860],[0.16,820],[0.19,780],[0.22,740],[0.25,700],[0.28,660],[0.31,630],[0.34,600],[0.37,570],[0.40,545],[0.44,520],[0.48,500],[0.52,480],[0.56,460],[0.60,445],[0.64,430],[0.68,415],[0.72,405],[0.76,395],[0.80,380],[0.85,360],[0.90,350],[0.95,340],[1.0,335],[1.05,330],[1.10,335],[1.15,340],[1.20,335],[1.25,340],[1.30,335],[1.35,345],[1.40,360],[1.44,371],[1.47,360],[1.50,340],[1.52,320],[1.54,500],[1.56,900],[1.58,1300],[1.60,1700],[1.62,1950],[1.64,2050],[1.66,2100],[1.68,2000],[1.70,1900],[1.72,1950],[1.74,1850],[1.76,1600],[1.78,1100],[1.80,500],[1.82,100],[1.84,0]];
const julyG: Pt[] = [[-2,0],[-1.72,0],[-1.70,50],[-1.67,150],[-1.64,300],[-1.61,420],[-1.58,500],[-1.55,560],[-1.52,600],[-1.49,640],[-1.46,700],[-1.43,780],[-1.40,870],[-1.37,960],[-1.34,1050],[-1.31,1150],[-1.28,1250],[-1.25,1350],[-1.22,1420],[-1.19,1500],[-1.16,1560],[-1.13,1600],[-1.10,1640],[-1.07,1700],[-1.04,1660],[-1.01,1720],[-0.98,1680],[-0.95,1750],[-0.92,1700],[-0.89,1780],[-0.86,1720],[-0.83,1800],[-0.80,1650],[-0.78,1900],[-0.76,1700],[-0.74,1850],[-0.72,1600],[-0.70,1760],[-0.68,1500],[-0.66,1700],[-0.64,1450],[-0.62,1600],[-0.60,1380],[-0.58,1520],[-0.56,1300],[-0.54,1460],[-0.52,1250],[-0.50,1380],[-0.48,1200],[-0.46,1320],[-0.44,1150],[-0.42,1260],[-0.40,1100],[-0.38,1200],[-0.36,1050],[-0.34,1150],[-0.32,1000],[-0.30,1100],[-0.28,960],[-0.26,1050],[-0.24,920],[-0.22,1000],[-0.20,880],[-0.18,950],[-0.16,840],[-0.14,900],[-0.12,800],[-0.10,860],[-0.08,760],[-0.06,820],[-0.04,720],[-0.02,780],[0,700],[0.02,640],[0.04,700],[0.06,660],[0.09,700],[0.12,650],[0.15,680],[0.18,620],[0.21,650],[0.24,600],[0.27,620],[0.30,570],[0.34,550],[0.38,530],[0.42,510],[0.46,490],[0.50,475],[0.54,460],[0.58,445],[0.62,430],[0.66,415],[0.70,400],[0.74,385],[0.78,370],[0.82,355],[0.86,340],[0.90,320],[0.94,305],[0.98,290],[1.02,280],[1.06,270],[1.10,265],[1.15,262],[1.20,265],[1.25,268],[1.30,270],[1.35,272],[1.40,275],[1.44,280],[1.48,285],[1.52,300],[1.54,320],[1.55,500],[1.56,900],[1.58,1300],[1.60,1600],[1.62,1800],[1.65,1900],[1.68,1950],[1.71,2000],[1.74,1980],[1.77,2050],[1.80,1950],[1.82,1700],[1.84,1200],[1.86,600],[1.88,100],[1.90,0]];

const augustSeries = [augustA, augustB, augustC, augustD, augustE];
const novemberSeries = [novemberA, novemberB, novemberC, novemberD, novemberE, novemberF];
const julySeries = [julyA, julyB, julyC, julyD, julyE, julyF, julyG];

const legendLabels = ["August 2020", "November 2020", "July 2021"];
const legendColors = ["#ff0000", "#0000ff", "#00ff00"];

const W = 961;
const H = 759;
const left = 117.5;
const right = 950;
const top = 16;
const bottom = 673;

const FONT = "'Liberation Sans', Arial, Helvetica, sans-serif";
const AX = "#262626";

export default function App() {
  const x = d3.scaleLinear().domain([-2, 6]).range([left, right]);
  const y = d3.scaleLinear().domain([0, 3500]).range([bottom, top]);
  const line = d3
    .line<Pt>()
    .x((d) => x(d[0]))
    .y((d) => y(d[1]));

  const groups: { data: Pt[][]; color: string }[] = [
    { data: augustSeries, color: legendColors[0] },
    { data: novemberSeries, color: legendColors[1] },
    { data: julySeries, color: legendColors[2] },
  ];

  const tickLen = 8;

  return (
    <svg
      width={W}
      height={H}
      viewBox={`0 0 ${W} ${H}`}
      style={{ position: "absolute", left: 0, top: 0, background: "#fff" }}
      fontFamily={FONT}
    >
      <defs>
        <clipPath id="plotClip">
          <rect x={left} y={top} width={right - left} height={bottom - top} />
        </clipPath>
      </defs>
      <rect x={0} y={0} width={W} height={H} fill="#fff" />

      <g clipPath="url(#plotClip)">
        {groups.map((g, gi) =>
          g.data.map((s, si) => (
            <path
              key={`${gi}-${si}`}
              d={line(s) || ""}
              fill="none"
              stroke={g.color}
              strokeWidth={1.3}
              strokeLinejoin="round"
            />
          ))
        )}
        <line
          x1={x(0)}
          x2={x(0)}
          y1={top}
          y2={bottom}
          stroke="#000"
          strokeWidth={1.8}
          strokeDasharray="12 7"
        />
      </g>

      {/* axes box */}
      <rect
        x={left}
        y={top}
        width={right - left}
        height={bottom - top}
        fill="none"
        stroke={AX}
        strokeWidth={1.2}
      />

      {/* x ticks */}
      {xTicks.map((t) => (
        <g key={`xt${t}`}>
          <line x1={x(t)} x2={x(t)} y1={bottom} y2={bottom - tickLen} stroke={AX} strokeWidth={1.2} />
          <line x1={x(t)} x2={x(t)} y1={top} y2={top + tickLen} stroke={AX} strokeWidth={1.2} />
          <text x={x(t)} y={711.5} fontSize={23} fill={AX} textAnchor="middle">
            {t}
          </text>
        </g>
      ))}

      {/* y ticks */}
      {yTicks.map((t) => (
        <g key={`yt${t}`}>
          <line x1={left} x2={left + tickLen} y1={y(t)} y2={y(t)} stroke={AX} strokeWidth={1.2} />
          <line x1={right} x2={right - tickLen} y1={y(t)} y2={y(t)} stroke={AX} strokeWidth={1.2} />
          <text x={104} y={y(t) + 11.7} fontSize={23} fill={AX} textAnchor="end">
            {t}
          </text>
        </g>
      ))}

      {/* axis labels */}
      <text x={536} y={748} fontSize={28} fill={AX} textAnchor="middle">
        Time RHT (hrs)
      </text>
      <text
        transform={`translate(35, 344.5) rotate(-90)`}
        fontSize={28}
        fill={AX}
        textAnchor="middle"
      >
        SSC (mg/L)
      </text>

      {/* annotations */}
      <text x={220} y={75} fontSize={32} fill="#000">
        Flood
      </text>
      <text x={377} y={75} fontSize={32} fill="#000">
        Ebb
      </text>

      {/* legend */}
      <g>
        <rect x={666} y={37} width={263} height={100} fill="#fff" stroke={AX} strokeWidth={1.2} />
        {legendLabels.map((lab, i) => {
          const ly = 56.7 + i * 31.3;
          return (
            <g key={lab}>
              <line x1={674} x2={750} y1={ly} y2={ly} stroke={legendColors[i]} strokeWidth={1.3} />
              <text x={757} y={ly + 8} fontSize={23} fill="#000">
                {lab}
              </text>
            </g>
          );
        })}
      </g>
    </svg>
  );
}
